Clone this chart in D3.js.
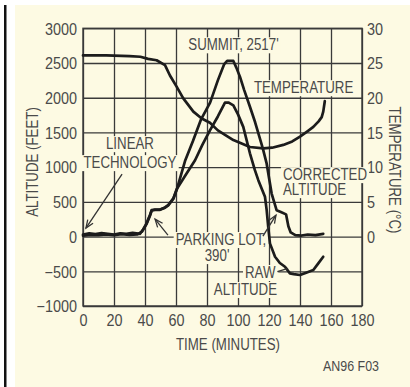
<!DOCTYPE html>
<html>
<head>
<meta charset="utf-8">
<script src="https://cdn.jsdelivr.net/npm/d3@7/dist/d3.min.js"></script>
<style>
  html, body { margin: 0; padding: 0; background: #fff; }
  svg { display: block; font-family: "Liberation Sans", Arial, sans-serif; }
</style>
</head>
<body>
<svg id="chart" width="410" height="387"></svg>
<script>
// axis ticks
const timeTicks = [0, 20, 40, 60, 80, 100, 120, 140, 160, 180];
const altTicks = [-1000, -500, 0, 500, 1000, 1500, 2000, 2500, 3000];
const tempTicks = [0, 5, 10, 15, 20, 25, 30];

// temperature (deg C) vs time (minutes)
const tempTime = [0, 15, 30, 37, 42, 47.5, 52.9, 56.1, 60.4, 64.7, 71.2, 76.6, 81.9, 87, 97, 107.7, 116.3, 122, 129.2, 135, 140, 145, 148.6, 152, 154, 155, 156];
const tempC = [26.1, 26.1, 26.0, 25.9, 25.6, 25.4, 24.7, 23.2, 21.6, 19.9, 18.0, 17.0, 16.4, 15.3, 13.9, 12.9, 12.7, 12.8, 13.2, 13.7, 14.4, 15.2, 15.8, 16.6, 17.2, 18.0, 19.5];

// corrected altitude (feet)
const corrTime = [0, 4, 8, 12, 16, 20, 24, 28, 32, 36.8, 39, 41, 43.2, 44.3, 46.5, 49.7, 52.9, 55, 58.3, 60.4, 66, 71, 76, 82, 87, 91, 93, 97, 99, 101.3, 104, 107.7, 111, 113.1, 116, 118.5, 121.7, 124.9, 128, 131, 132.5, 134, 137, 141, 145, 150, 155];
const corrAlt = [30, 45, 35, 50, 40, 30, 45, 40, 55, 40, 110, 190, 310, 380, 390, 390, 420, 455, 550, 670, 1100, 1380, 1680, 1930, 2250, 2480, 2530, 2530, 2430, 2300, 2110, 1870, 1650, 1490, 1270, 1050, 620, 380, 350, 320, 150, 60, 20, 15, 30, 20, 40];

// raw altitude (feet)
const rawTime = [0, 5, 10, 15, 20, 25, 30, 35, 38, 41, 43.2, 44.3, 46.5, 49.7, 52.9, 55, 58.3, 60.4, 66, 72.3, 77, 81.9, 87, 91.6, 94, 97, 100, 103.4, 107.7, 110.9, 113.1, 117.4, 118.5, 119.5, 120.6, 123.9, 127, 130.3, 133.5, 136, 140, 144, 148.6, 151.8, 155];
const rawAlt = [15, 25, 20, 30, 20, 35, 25, 30, 70, 180, 300, 375, 385, 385, 415, 450, 545, 680, 880, 1100, 1320, 1530, 1730, 1930, 1930, 1890, 1760, 1580, 1200, 957, 813, 573, 381, 141, -98, -291, -380, -435, -530, -540, -554, -520, -482, -386, -291];

const svg = d3.select('#chart');
const W = 410, H = 387;
const plot = { left: 83, top: 28.3, right: 362, bottom: 306 };
const ink = '#1c1c1c';
const textInk = '#4a4a4a';
const grid = '#3a3a3a';
const cream = '#fdfae3';

// the original face is a condensed sans; squeeze the regular one
function squeeze(sel, k) {
    sel.each(function () {
        const len = this.getComputedTextLength();
        d3.select(this).attr('textLength', len * k).attr('lengthAdjust', 'spacingAndGlyphs');
    });
}

// page frame
svg.append('rect').attr('x', 15).attr('y', 5).attr('width', W - 15).attr('height', H - 5).attr('fill', cream);
svg.append('rect').attr('x', 4).attr('y', 5).attr('width', 2.5).attr('height', H - 5).attr('fill', '#111');

const x = d3.scaleLinear().domain([0, 180]).range([plot.left, plot.right]);
const yAlt = d3.scaleLinear().domain([-1000, 3000]).range([plot.bottom, plot.top]);
const yTemp = d3.scaleLinear().domain([-10, 30]).range([plot.bottom, plot.top]);
const plotW = plot.right - plot.left;
const plotH = plot.bottom - plot.top;

const fmtAlt = d => d < 0 ? '\u2212' + Math.abs(d) : '' + d;

// grid + tick labels via axes
const xAxis = svg.append('g')
    .attr('transform', `translate(0,${plot.bottom})`)
    .call(d3.axisBottom(x).tickValues(timeTicks).tickSize(-plotH).tickPadding(9).tickFormat(d => d));
const yAxis = svg.append('g')
    .attr('transform', `translate(${plot.left},0)`)
    .call(d3.axisLeft(yAlt).tickValues(altTicks).tickSize(-plotW).tickPadding(6).tickFormat(fmtAlt));
const tAxis = svg.append('g')
    .attr('transform', `translate(${plot.right},0)`)
    .call(d3.axisRight(yTemp).tickValues(tempTicks).tickSize(0).tickPadding(5).tickFormat(d => d));

[xAxis, yAxis, tAxis].forEach(g => {
    g.attr('font-family', null).attr('font-size', null);
    g.select('.domain').remove();
    g.selectAll('line').attr('stroke', grid).attr('stroke-width', 1.3);
    g.selectAll('text').attr('fill', textInk).style('font-size', '16px');
    squeeze(g.selectAll('text'), 0.9);
});
yAxis.selectAll('text').attr('dy', '0.36em');
tAxis.selectAll('text').attr('dy', '0.36em');

svg.append('rect')
    .attr('x', plot.left).attr('y', plot.top).attr('width', plotW).attr('height', plotH)
    .attr('fill', 'none').attr('stroke', grid).attr('stroke-width', 1.4);

// annotation labels, placed in data units
const notes = [
    { text: "SUMMIT, 2517'", t: 97.1, v: 2683, anchor: 'middle' },
    { text: 'TEMPERATURE', t: 142.3, v: 2065, anchor: 'middle' },
    { text: 'LINEAR', t: 30.3, v: 1259, anchor: 'middle' },
    { text: 'TECHNOLOGY', t: 30.3, v: 986, anchor: 'middle' },
    { text: 'CORRECTED', t: 129, v: 813, anchor: 'start' },
    { text: 'ALTITUDE', t: 129, v: 597, anchor: 'start' },
    { text: 'PARKING LOT,', t: 89, v: -122, anchor: 'middle' },
    { text: "390'", t: 86.5, v: -353, anchor: 'middle' },
    { text: 'RAW', t: 124.2, v: -597, anchor: 'end' },
    { text: 'ALTITUDE', t: 125.2, v: -842, anchor: 'end' }
];

const boxLayer = svg.append('g');
const lineLayer = svg.append('g');
const textLayer = svg.append('g');

const noteText = textLayer.selectAll('text').data(notes).enter().append('text')
    .attr('x', d => x(d.t)).attr('y', d => yAlt(d.v))
    .attr('text-anchor', d => d.anchor)
    .attr('fill', textInk).style('font-size', '16px')
    .text(d => d.text);
squeeze(noteText, 0.83);
noteText.each(function () {
    const b = this.getBBox();
    boxLayer.append('rect')
        .attr('x', b.x - 2).attr('y', b.y + 1).attr('width', b.width + 4).attr('height', b.height - 1)
        .attr('fill', cream);
});

// curves
const lineAlt = d3.line().x(d => x(d[0])).y(d => yAlt(d[1]));
const lineTemp = d3.line().x(d => x(d[0])).y(d => yTemp(d[1]));

lineLayer.append('path').datum(d3.zip(tempTime, tempC)).attr('d', lineTemp);
lineLayer.append('path').datum(d3.zip(rawTime, rawAlt)).attr('d', lineAlt);
lineLayer.append('path').datum(d3.zip(corrTime, corrAlt)).attr('d', lineAlt);
lineLayer.selectAll('path')
    .attr('fill', 'none').attr('stroke', ink).attr('stroke-width', 2.7)
    .attr('stroke-linejoin', 'round').attr('stroke-linecap', 'round');

// arrows
const defs = svg.append('defs');
defs.append('marker')
    .attr('id', 'head').attr('viewBox', '-10 -5 12 10')
    .attr('refX', 0).attr('refY', 0)
    .attr('markerWidth', 12).attr('markerHeight', 10)
    .attr('markerUnits', 'userSpaceOnUse').attr('orient', 'auto')
    .append('path').attr('d', 'M-8,-3.2L0,0L-8,3.2')
    .attr('fill', 'none').attr('stroke', '#333').attr('stroke-width', 1.3);

const arrows = [
    { from: [25.2, 899], to: [1.9, 122], head: true },
    { from: [54.8, 22], to: [46.5, 252], head: true },
    { from: [116.1, 7], to: [124.5, 309], head: true },
    { from: [125.4, -506], to: [132.3, -458], head: false }
];
textLayer.selectAll('line.arrow').data(arrows).enter().append('line')
    .attr('class', 'arrow')
    .attr('x1', d => x(d.from[0])).attr('y1', d => yAlt(d.from[1]))
    .attr('x2', d => x(d.to[0])).attr('y2', d => yAlt(d.to[1]))
    .attr('stroke', '#333').attr('stroke-width', 1.3)
    .attr('marker-end', d => d.head ? 'url(#head)' : null);

// axis titles
const titles = svg.append('g').attr('fill', textInk).style('font-size', '16px');
titles.append('text')
    .attr('transform', `translate(38,162) rotate(-90)`)
    .attr('text-anchor', 'middle')
    .text('ALTITUDE (FEET)');
titles.append('text')
    .attr('transform', `translate(389,170) rotate(90)`)
    .attr('text-anchor', 'middle')
    .text('TEMPERATURE (\u00B0C)');
titles.append('text')
    .attr('x', 228).attr('y', 350)
    .attr('text-anchor', 'middle')
    .text('TIME (MINUTES)');
titles.append('text')
    .attr('x', 379).attr('y', 371)
    .attr('text-anchor', 'end').style('font-size', '15px')
    .text('AN96 F03');
squeeze(titles.selectAll('text'), 0.83);
</script>
</body>
</html>
